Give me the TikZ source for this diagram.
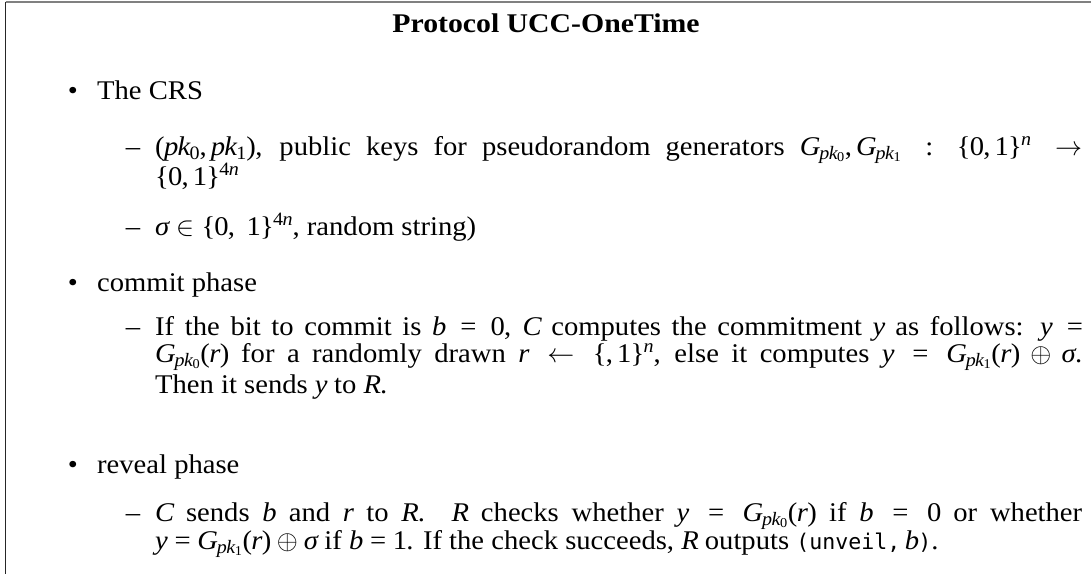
\RequirePackage{fix-cm}
\documentclass[tikz,border=0pt]{standalone}
\usepackage[no-math]{fontspec}
\setmainfont{Liberation Serif}[FakeStretch=1.06]
\setmonofont{DejaVu Sans Mono}[Scale=0.8]
% math letters, digits and simple signs taken from the text face
\begingroup\edef\x{\endgroup
  \noexpand\DeclareSymbolFont{txtit}{TU}{\rmdefault}{m}{it}%
  \noexpand\DeclareSymbolFont{txtup}{TU}{\rmdefault}{m}{n}}\x
\newcommand\mletter[1]{\DeclareMathSymbol{#1}{\mathalpha}{txtit}{`#1}}
\newcommand\mdigit[1]{\DeclareMathSymbol{#1}{\mathalpha}{txtup}{`#1}}
\makeatletter
\@tfor\ltr:=abcdefghijklmnopqrstuvwxyzABCDEFGHIJKLMNOPQRSTUVWXYZ\do{\expandafter\mletter\ltr}
\@tfor\ltr:=0123456789\do{\expandafter\mdigit\ltr}
\makeatother
\DeclareMathSymbol{(}{\mathopen}{txtup}{`(}
\DeclareMathSymbol{)}{\mathclose}{txtup}{`)}
\DeclareMathSymbol{=}{\mathrel}{txtup}{`=}
\DeclareMathSymbol{,}{\mathpunct}{txtup}{`,}
\DeclareMathSymbol{:}{\mathrel}{txtup}{`:}
\DeclareMathSymbol{\lb}{\mathopen}{txtup}{"7B}
\DeclareMathSymbol{\rb}{\mathclose}{txtup}{"7D}
\Umathchardef\sigma="7 \symtxtit "3C3
\begin{document}
\begin{tikzpicture}[x=1pt,y=-1pt,
  body/.style={inner sep=0pt, font=\fontsize{27}{32}\selectfont},
  txt/.style={body, anchor=base west},
  bul/.style={body, anchor=base},
  ttl/.style={body, anchor=base, font=\fontsize{27}{32}\selectfont\bfseries},
  topline/.style={draw=black!50, line width=2pt},
  sideline/.style={draw=black!85, line width=1.6pt}]
\useasboundingbox (0,0) rectangle (1091,574);

% frame: top rule and left rule
\coordinate (tl) at (5.5,1.5);
\coordinate (tr) at (1091,1.5);
\coordinate (bl) at (5.5,574);
\draw[topline] (tl) -- (tr);
\draw[sideline] (tl) -- (bl);

% heading
\node[ttl] (title) at (546,32) {\scalebox{1.04}[1]{Protocol UCC-OneTime}};

% the CRS
\node[bul] (b1) at (73,99) {•};
\node[txt] (crs) at (97,99) {The CRS};
\node[bul] (d1) at (133,155) {–};
\node[txt] (crs1) at (155,155) {\hbox to 927pt{$(pk_0, pk_1)$, public keys for pseudorandom generators $G_{pk_0}, G_{pk_1}: \lb 0,1\rb^n \rightarrow$}};
\node[txt] (crs1b) at (155,185) {$\lb 0,1\rb^{4n}$};
\node[bul] (d2) at (133,235) {–};
\node[txt] (crs2) at (155,235) {$\sigma \in \lb 0,\;1\rb^{4n}$, random string)};

% commit phase
\node[bul] (b2) at (73,291) {•};
\node[txt] (com) at (97,291) {commit phase};
\node[bul] (d3) at (133,335) {–};
\node[txt] (com1) at (155,335) {\hbox to 927pt{If the bit to commit is $b = 0$, $C$ computes the commitment $y$ as follows: $y =$}};
\node[txt] (com2) at (155,362) {\hbox to 927pt{$G_{pk_0}(r)$ for a randomly drawn $r \leftarrow \lb ,1\rb^n$, else it computes $y = G_{pk_1}(r) \oplus \sigma$.}};
\node[txt] (com3) at (155,393) {Then it sends $y$ to $R$.};

% reveal phase
\node[bul] (b3) at (73,473) {•};
\node[txt] (rev) at (97,473) {reveal phase};
\node[bul] (d4) at (133,521) {–};
\node[txt] (rev1) at (155,521) {\hbox to 927pt{$C$ sends $b$ and $r$ to $R$. $R$ checks whether $y = G_{pk_0}(r)$ if $b = 0$ or whether}};
\node[txt] (rev2) at (155,549) {$y = G_{pk_1}(r) \oplus \sigma$ if $b = 1$. If the check succeeds, $R$ outputs \texttt{(unveil,}\,$b$\texttt{)}.};
\end{tikzpicture}
\end{document}
